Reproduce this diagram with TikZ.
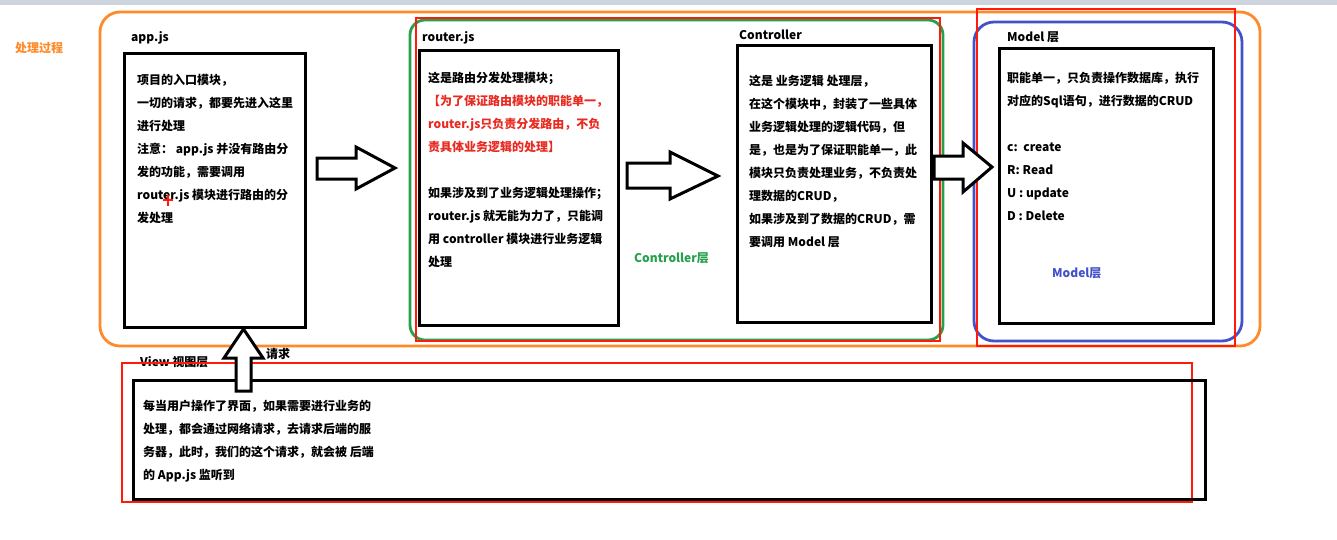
\documentclass[tikz,border=0pt]{standalone}
\usepackage{fontspec}
\newfontfamily\cjk{Noto Sans CJK SC}
\definecolor{orangeL}{HTML}{FF8A2A}
\definecolor{greenL}{HTML}{25A04C}
\definecolor{blueL}{HTML}{4352C8}
\definecolor{redL}{HTML}{FF1A0A}
\definecolor{redT}{HTML}{E82A20}
\definecolor{grayband}{HTML}{CDD4DE}
\tikzset{
  blk/.style={draw=black, line width=3pt},
  redbox/.style={draw=redL, line width=2pt},
  layer/.style={line width=2.8pt, rounded corners=#1},
  txt/.style={anchor=north west, inner sep=0pt, align=left,
    font=\cjk\bfseries\fontsize{12}{23}\selectfont},
  lbl/.style={anchor=base west, inner sep=0pt, font=\cjk\bfseries\fontsize{12}{14}\selectfont},
  blockarrow/.style={draw=black, line width=3pt, fill=white, line join=miter}
}
\begin{document}
\begin{tikzpicture}[x=1pt,y=-1pt]
\useasboundingbox (0,0) rectangle (1337,539);
\fill[white] (0,0) rectangle (1337,539);
\fill[grayband] (0,0) rectangle (1337,5);

% outer process container
\draw[orangeL, layer=20] (100,12) rectangle (1260,346);
\node[lbl, text=orangeL] (proc) at (15,52.5) {处理过程};

% controller layer
\draw[greenL, layer=15] (410,20) rectangle (943,340);
\draw[redbox] (416,18) rectangle (940,341);

% model layer
\draw[blueL, layer=20] (974,22) rectangle (1242,341);

% app.js
\node[lbl] (applbl) at (131,41.5) {app.js};
\draw[blk] (124,53) rectangle (305,327);
\node[txt] (apptxt) at (137,73) {\rule{0pt}{11pt}项目的入口模块，\\
一切的请求，都要先进入这里\\
进行处理\\
注意： app.js 并没有路由分\\
发的功能，需要调用\\
router.js 模块进行路由的分\\
发处理};
\draw[redL, line width=1.8pt] (163,200) -- (173,200) (168,195) -- (168,206);

% router.js
\node[lbl] (routerlbl) at (422,41.5) {router.js};
\draw[blk] (419,50) rectangle (618,325);
\node[txt] (routertxt) at (428,71) {\rule{0pt}{11pt}这是路由分发处理模块；\\
\textcolor{redT}{【为了保证路由模块的职能单一，}\\
\textcolor{redT}{router.js只负责分发路由，不负}\\
\textcolor{redT}{责具体业务逻辑的处理】}\\[23pt]
如果涉及到了业务逻辑处理操作；\\
router.js 就无能为力了，只能调\\
用 controller 模块进行业务逻辑\\
处理};

% controller
\node[lbl] (ctrllbl) at (739,39.5) {Controller};
\draw[blk] (737,45) rectangle (931,322);
\node[txt] (ctrltxt) at (749,74) {\rule{0pt}{11pt}这是 业务逻辑 处理层，\\
在这个模块中，封装了一些具体\\
业务逻辑处理的逻辑代码，但\\
是，也是为了保证职能单一，此\\
模块只负责处理业务，不负责处\\
理数据的CRUD，\\
如果涉及到了数据的CRUD，需\\
要调用 Model 层};
\node[lbl, text=greenL] (ctrllayer) at (634,262.5) {Controller层};

% model
\node[lbl] (modellbl) at (1007,41.5) {Model 层};
\draw[blk] (999,48) rectangle (1213,323);
\node[txt] (modeltxt) at (1007,71) {\rule{0pt}{11pt}职能单一，只负责操作数据库，执行\\
对应的Sql语句，进行数据的CRUD\\[23pt]
c:\ \ create\\
R: Read\\
U : update\\
D : Delete};
\node[lbl, text=blueL] (modellayer) at (1052,277.5) {Model层};
\draw[redbox] (977,9) rectangle (1235,346);

% block arrows
\draw[blockarrow] (317,158) -- (356,158) -- (356,147) -- (395,168) -- (356,189) -- (356,179) -- (317,179) -- cycle;
\draw[blockarrow] (627,163) -- (670,163) -- (670,152) -- (718,176) -- (670,199) -- (670,188) -- (627,188) -- cycle;
\draw[blockarrow] (934,156) -- (963,156) -- (963,143) -- (992,167) -- (963,192) -- (963,179) -- (934,179) -- cycle;

% view layer
\node[lbl] (viewlbl) at (140,366.5) {View 视图层};
\draw[redbox] (122,363) rectangle (1192,502);
\draw[blk] (133,380) rectangle (1205,499);
\node[txt] (viewtxt) at (143,399) {\rule{0pt}{11pt}每当用户操作了界面，如果需要进行业务的\\
处理，都会通过网络请求，去请求后端的服\\
务器，此时，我们的这个请求，就会被 后端\\
的 App.js 监听到};
\draw[blockarrow] (243.5,329) -- (263,358) -- (251,358) -- (251,391) -- (236,391) -- (236,358) -- (224,358) -- cycle;
\node[lbl] (req) at (266,358.5) {请求};
\end{tikzpicture}
\end{document}
